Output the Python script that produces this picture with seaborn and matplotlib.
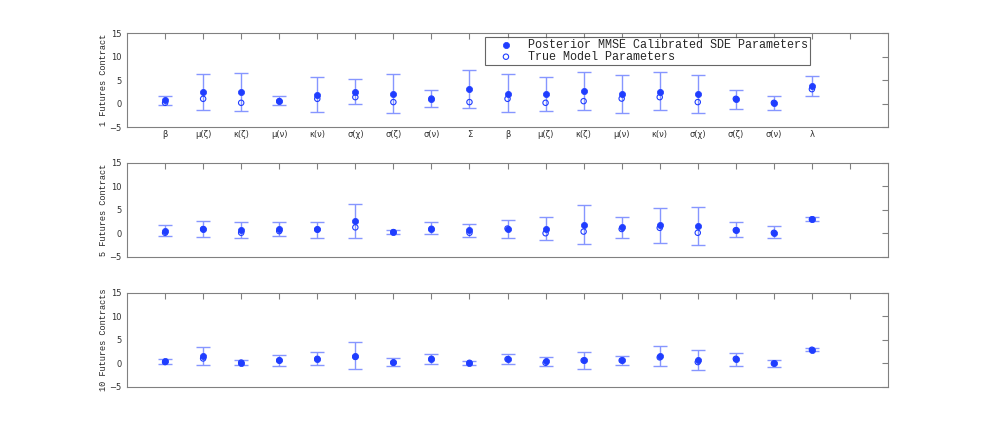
import matplotlib
matplotlib.use("Agg")
import matplotlib.pyplot as plt
import numpy as np
import pandas as pd
import seaborn as sns

params = ["β", "μ(ζ)", "κ(ζ)", "μ(ν)", "κ(ν)", "σ(χ)", "σ(ζ)", "σ(ν)", "Σ",
          "β", "μ(ζ)", "κ(ζ)", "μ(ν)", "κ(ν)", "σ(χ)", "σ(ζ)", "σ(ν)", "λ"]

panel_labels = ["1 Futures Contract", "5 Futures Contract", "10 Futures Contracts"]

# posterior MMSE estimates
mmse_1 = [0.65, 2.4, 2.4, 0.5, 1.9, 2.5, 2.1, 1.05, 3.1,
          2.1, 2.0, 2.7, 2.05, 2.5, 2.0, 1.0, 0.15, 3.7]
mmse_5 = [0.55, 0.95, 0.65, 0.95, 0.85, 2.7, 0.3, 1.0, 0.65,
          1.05, 1.05, 1.9, 1.3, 1.7, 1.6, 0.8, 0.15, 3.0]
mmse_10 = [0.43, 1.57, 0.2, 0.65, 1.0, 1.65, 0.3, 1.0, 0.15,
           0.93, 0.43, 0.65, 0.72, 1.5, 0.72, 1.0, 0.0, 2.93]

# true model parameters
true_1 = [0.15, 1.0, 0.15, 0.5, 1.0, 1.35, 0.3, 1.05, 0.3,
          1.0, 0.15, 0.5, 1.05, 1.35, 0.3, 1.0, 0.15, 3.05]
true_5 = [0.15, 0.95, 0.15, 0.5, 0.85, 1.3, 0.3, 1.0, 0.15,
          1.05, 0.05, 0.4, 0.95, 1.2, 0.15, 0.7, 0.15, 3.0]
true_10 = [0.3, 1.07, 0.2, 0.65, 1.0, 1.4, 0.15, 1.0, 0.15,
           0.93, 0.15, 0.65, 0.65, 1.3, 0.3, 1.0, 0.0, 2.93]

# error bar centres and half widths
center_1 = [0.62, 2.45, 2.45, 0.6, 1.9, 2.5, 2.05, 1.1, 3.12,
            2.15, 2.05, 2.65, 2.02, 2.6, 2.02, 0.93, 0.1, 3.75]
err_1 = [1.0, 3.75, 3.95, 1.0, 3.8, 2.7, 4.15, 1.8, 3.98,
         4.05, 3.65, 3.95, 3.95, 4.0, 3.95, 2.0, 1.5, 2.2]
center_5 = [0.57, 0.85, 0.65, 0.95, 0.7, 2.72, 0.3, 1.07, 0.65,
            1.02, 1.02, 1.92, 1.25, 1.75, 1.57, 0.75, 0.22, 2.98]
err_5 = [1.2, 1.7, 1.7, 1.4, 1.75, 3.58, 0.5, 1.28, 1.35,
         1.88, 2.38, 4.08, 2.3, 3.75, 4.12, 1.6, 1.28, 0.42]
center_10 = [0.4, 1.63, 0.25, 0.65, 1.1, 1.75, 0.3, 0.97, 0.14,
             0.93, 0.43, 0.65, 0.68, 1.62, 0.75, 0.93, 0.05, 2.93]
err_10 = [0.55, 1.93, 0.55, 1.15, 1.4, 2.9, 0.85, 1.03, 0.44,
          1.0, 1.0, 1.85, 0.97, 2.2, 2.1, 1.37, 0.75, 0.28]

mmse = [mmse_1, mmse_5, mmse_10]
true = [true_1, true_5, true_10]
centers = [center_1, center_5, center_10]
errs = [err_1, err_5, err_10]

sns.set_style("white")
plt.rcParams["font.family"] = ["DejaVu Sans"]

dark_blue = "#1f3dff"
light_blue = "#8696ff"
edge_grey = "#808080"

fig = plt.figure(figsize=(9.81, 4.36), dpi=100)
bottoms = [0.7087, 0.4106, 0.1124]
x = np.arange(1, len(params) + 1)

for i in range(3):
    ax = fig.add_axes([0.1295, bottoms[i], 0.7757, 0.2156])
    df = pd.DataFrame({"x": x, "mmse": mmse[i], "true": true[i],
                       "center": centers[i], "err": errs[i]})
    ax.errorbar(df["x"], df["center"], yerr=df["err"], fmt="none",
                ecolor=light_blue, elinewidth=1.0, capsize=4.7,
                capthick=1.0, zorder=1)
    sns.scatterplot(data=df, x="x", y="mmse", ax=ax, color=dark_blue,
                    s=20, edgecolor=dark_blue, linewidth=0.5, zorder=3,
                    label="Posterior MMSE Calibrated SDE Parameters")
    sns.scatterplot(data=df, x="x", y="true", ax=ax, facecolor="none",
                    edgecolor=dark_blue, s=15, linewidth=0.8, zorder=2,
                    marker="o", label="True Model Parameters")

    ax.set_xlim(0, 20)
    ax.set_ylim(-5, 15)
    ax.set_yticks([-5, 0, 5, 10, 15])
    ax.set_xticks(np.arange(1, 20))
    if i == 0:
        ax.set_xticklabels(params + [""], fontsize=6)
    else:
        ax.set_xticklabels([])
    ax.tick_params(axis="y", labelsize=6, pad=4)
    ax.tick_params(axis="x", pad=2.5)
    ax.tick_params(direction="in", length=4, width=0.8, color=edge_grey,
                   top=True, right=True, labelcolor="#303030")
    for sp in ax.spines.values():
        sp.set_color(edge_grey)
        sp.set_linewidth(0.8)
    ax.set_xlabel("")
    ax.set_ylabel(panel_labels[i], family="Liberation Mono", fontsize=6.2,
                  labelpad=1)

    if i == 0:
        leg = ax.legend(loc="upper left", bbox_to_anchor=(0.470, 0.957),
                        prop={"family": "Liberation Mono", "size": 8.5},
                        frameon=True, fancybox=False, borderpad=0.15,
                        labelspacing=0.0, handletextpad=0.25,
                        handlelength=3.3, borderaxespad=0)
        leg.get_frame().set_edgecolor("#404040")
        leg.get_frame().set_linewidth(0.8)
    else:
        leg = ax.get_legend()
        if leg is not None:
            leg.remove()

fig.savefig("out.png", dpi=100)
